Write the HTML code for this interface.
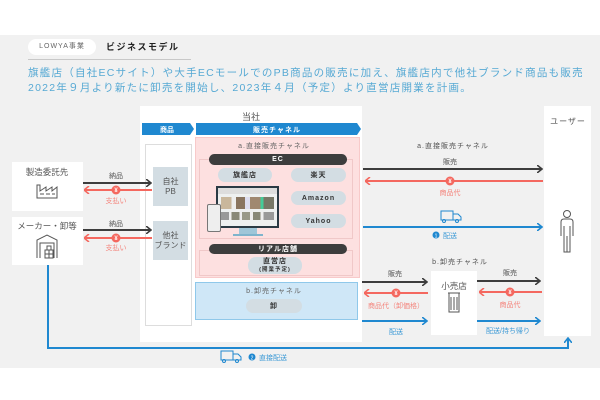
<!DOCTYPE html>
<html><head><meta charset="utf-8"><style>
*{margin:0;padding:0;box-sizing:border-box}
body{width:600px;height:400px;background:#fff;position:relative;overflow:hidden;font-family:"Liberation Sans","Noto Sans CJK JP",sans-serif}
.a{position:absolute}
.t{position:absolute;white-space:nowrap;text-align:center;transform:translateX(-50%)}
.pill{position:absolute;border-radius:8px;background:#d3dde3;color:#333;font-weight:bold;font-size:7px;display:flex;align-items:center;justify-content:center;letter-spacing:1px}
.dark{position:absolute;background:#3d3d3d;color:#fff;border-radius:6px;font-size:7px;font-weight:bold;display:flex;align-items:center;justify-content:center;letter-spacing:1px}
.wb{position:absolute;background:#fff}
</style></head><body>
<div class="a" style="left:0;top:35px;width:600px;height:333px;background:#f1f1f1"></div>
<div class="a" style="left:28px;top:39px;width:68px;height:16px;background:#fff;border-radius:8px;font-size:7px;color:#666;text-align:center;line-height:16px;letter-spacing:1px">LOWYA事業</div>
<div class="a" style="left:106px;top:39px;font-size:9px;font-weight:bold;color:#222;line-height:16px;letter-spacing:1.5px">ビジネスモデル</div>
<div class="a" style="left:28px;top:59px;width:163px;height:1px;background:#c8c8c8"></div>
<div class="a" style="left:28px;top:66px;font-size:10.5px;color:#56a9d4;line-height:15px;letter-spacing:1.25px;white-space:nowrap">旗艦店（自社ECサイト）や大手ECモールでのPB商品の販売に加え、旗艦店内で他社ブランド商品も販売<br>2022年９月より新たに卸売を開始し、2023年４月（予定）より直営店開業を計画。</div>

<div class="wb" style="left:12px;top:162px;width:71px;height:49px"></div>
<div class="t" style="left:47px;top:166px;font-size:8.5px;color:#555">製造委託先</div>
<div class="wb" style="left:12px;top:217px;width:71px;height:48px"></div>
<div class="t" style="left:47px;top:220px;font-size:8.5px;color:#555">メーカー・卸等</div>

<div class="wb" style="left:140px;top:106px;width:222px;height:236px"></div>
<div class="t" style="left:251px;top:110px;font-size:9px;color:#555">当社</div>
<div class="a" style="left:145px;top:144px;width:47px;height:182px;border:1px solid #ddd;background:#fff"></div>
<div class="a" style="left:153px;top:167px;width:35px;height:39px;background:#d3dde3;color:#555;font-size:8px;text-align:center;line-height:10px;padding-top:10px">自社<br>PB</div>
<div class="a" style="left:153px;top:221px;width:35px;height:39px;background:#d3dde3;color:#555;font-size:8px;text-align:center;line-height:10px;padding-top:10px">他社<br>ブランド</div>
<div class="a" style="left:195px;top:137px;width:165px;height:141px;background:#fde0e0;border:1px solid #f8caca"></div>
<div class="a" style="left:195px;top:282px;width:163px;height:38px;background:#cfe7f7;border:1px solid #8fc8ea"></div>
<div class="a" style="left:199px;top:159px;width:154px;height:80px;border:1px solid #f0c8c8"></div>
<div class="a" style="left:199px;top:250px;width:154px;height:26px;border:1px solid #f0c8c8"></div>
<div class="t" style="left:274px;top:141px;font-size:7px;color:#666;letter-spacing:1px">a.直接販売チャネル</div>
<div class="dark" style="left:209px;top:154px;width:138px;height:11px">EC</div>
<div class="pill" style="left:218px;top:168px;width:54px;height:14px">旗艦店</div>
<div class="pill" style="left:291px;top:168px;width:55px;height:14px">楽天</div>
<div class="pill" style="left:291px;top:191px;width:55px;height:14px">Amazon</div>
<div class="pill" style="left:291px;top:214px;width:55px;height:14px">Yahoo</div>
<div class="a" style="left:216px;top:186px;width:63px;height:42px;background:#2b3a44;padding:2px"><div style="width:100%;height:100%;background:#eef0f0;border-top:6px solid #ddd"><div style="margin:3px;height:12px;background:linear-gradient(90deg,#c9b79c 0 20%,#eee 20% 28%,#8a7560 28% 45%,#dde 45% 55%,#a08870 55% 75%,#4c9 75% 80%,#776 80%)"></div><div style="margin:3px;height:8px;background:linear-gradient(90deg,#999 0 15%,#eee 15% 20%,#887 20% 35%,#eee 35% 40%,#998 40% 55%,#eee 55% 60%,#887 60% 75%,#eee 75% 80%,#999 80%)"></div></div></div>
<div class="a" style="left:239px;top:228px;width:18px;height:6px;background:#9fc6d8"></div>
<div class="a" style="left:233px;top:234px;width:30px;height:2px;background:#7fb4cc"></div>
<div class="a" style="left:207px;top:204px;width:14px;height:28px;background:#eee;border:1px solid #777;border-radius:2px"></div>
<div class="dark" style="left:209px;top:244px;width:138px;height:10px">リアル店舗</div>
<div class="pill" style="left:248px;top:257px;width:54px;height:17px;flex-direction:column;line-height:8px">直営店<span style="font-size:5.5px">(開業予定)</span></div>
<div class="t" style="left:274px;top:286px;font-size:7px;color:#666;letter-spacing:1px">b.卸売チャネル</div>
<div class="pill" style="left:246px;top:299px;width:56px;height:14px">卸</div>

<div class="wb" style="left:544px;top:106px;width:47px;height:230px"></div>
<div class="t" style="left:568px;top:116px;font-size:8px;color:#555;letter-spacing:1px">ユーザー</div>
<div class="wb" style="left:431px;top:271px;width:46px;height:64px"></div>
<div class="t" style="left:454px;top:280px;font-size:8.5px;color:#555">小売店</div>

<svg class="a" style="left:0;top:0" width="600" height="400" viewBox="0 0 600 400">
<defs>
<marker id="k" markerWidth="6" markerHeight="8" refX="5" refY="4" orient="auto" markerUnits="userSpaceOnUse"><path d="M0 0L5 4L0 8" fill="none" stroke="#3d3d3d" stroke-width="1.6"/></marker>
<marker id="r" markerWidth="6" markerHeight="8" refX="1" refY="4" orient="auto" markerUnits="userSpaceOnUse"><path d="M5 0L0 4L5 8" fill="none" stroke="#f4685f" stroke-width="1.6"/></marker>
<marker id="b" markerWidth="6" markerHeight="8" refX="5" refY="4" orient="auto" markerUnits="userSpaceOnUse"><path d="M0 0L5 4L0 8" fill="none" stroke="#1f88d0" stroke-width="1.6"/></marker>
</defs>
<path d="M142 123H190L194 129L190 135H142Z" fill="#1f88d0"/>
<path d="M196 123H357L361 129L357 135H196Z" fill="#1f88d0"/>
<text x="167" y="132" font-size="7" fill="#fff" text-anchor="middle" font-weight="bold">商品</text>
<text x="277" y="132" font-size="7" fill="#fff" text-anchor="middle" font-weight="bold" letter-spacing="1">販売チャネル</text>
<g stroke-width="2" fill="none">
<line x1="83" y1="183" x2="151" y2="183" stroke="#3d3d3d" marker-end="url(#k)"/>
<line x1="85" y1="190" x2="152" y2="190" stroke="#f4685f" marker-start="url(#r)"/>
<line x1="83" y1="230" x2="151" y2="230" stroke="#3d3d3d" marker-end="url(#k)"/>
<line x1="85" y1="238" x2="152" y2="238" stroke="#f4685f" marker-start="url(#r)"/>
<line x1="363" y1="169" x2="542" y2="169" stroke="#3d3d3d" marker-end="url(#k)"/>
<line x1="366" y1="181" x2="543" y2="181" stroke="#f4685f" marker-start="url(#r)"/>
<line x1="363" y1="227" x2="542" y2="227" stroke="#1f88d0" marker-end="url(#b)"/>
<line x1="362" y1="282" x2="427" y2="282" stroke="#3d3d3d" marker-end="url(#k)"/>
<line x1="365" y1="293" x2="428" y2="293" stroke="#f4685f" marker-start="url(#r)"/>
<line x1="362" y1="321" x2="427" y2="321" stroke="#1f88d0" marker-end="url(#b)"/>
<line x1="477" y1="281" x2="540" y2="281" stroke="#3d3d3d" marker-end="url(#k)"/>
<line x1="480" y1="292" x2="542" y2="292" stroke="#f4685f" marker-start="url(#r)"/>
<line x1="477" y1="321" x2="540" y2="321" stroke="#1f88d0" marker-end="url(#b)"/>
<path d="M48 265V348H568V338" stroke="#1f88d0" marker-end="url(#b)"/>
</g>
<g fill="#f4685f">
<circle cx="116" cy="190" r="4.5"/><circle cx="116" cy="238" r="4.5"/><circle cx="450" cy="181" r="4.5"/><circle cx="396" cy="293" r="4.5"/><circle cx="510" cy="292" r="4.5"/>
</g>
<g fill="#fff" font-size="6" text-anchor="middle" font-weight="bold">
<text x="116" y="192">¥</text><text x="116" y="240">¥</text><text x="450" y="183">¥</text><text x="396" y="295">¥</text><text x="510" y="294">¥</text>
</g>
<g font-size="7" text-anchor="middle" fill="#555">
<text x="116" y="178">納品</text><text x="116" y="226">納品</text>
<text x="453" y="148" letter-spacing="1">a.直接販売チャネル</text>
<text x="450" y="164">販売</text>
<text x="460" y="264" letter-spacing="1">b.卸売チャネル</text>
<text x="395" y="276">販売</text><text x="510" y="275">販売</text>
</g>
<g font-size="7" text-anchor="middle" fill="#f4857d">
<text x="116" y="203">支払い</text><text x="116" y="250">支払い</text>
<text x="450" y="195">商品代</text><text x="396" y="308">商品代（卸価格）</text><text x="510" y="307">商品代</text>
</g>
<g font-size="7" fill="#3d9ad6">
<circle cx="436" cy="235" r="3.5" fill="#1f88d0"/><text x="436" y="237.5" font-size="5" fill="#fff" text-anchor="middle">1</text>
<text x="443" y="238">配送</text>
<text x="396" y="334" text-anchor="middle">配送</text><text x="508" y="333" text-anchor="middle">配送/持ち帰り</text>
<circle cx="252" cy="357" r="3.5" fill="#1f88d0"/><text x="252" y="359.5" font-size="5" fill="#fff" text-anchor="middle">2</text>
<text x="259" y="360">直接配送</text>
</g>
<g stroke="#1f88d0" stroke-width="1" fill="none">
<rect x="441" y="211" width="12" height="9"/><path d="M453 214H458L461 217V220H453"/><circle cx="444" cy="221" r="1.5"/><circle cx="457" cy="221" r="1.5"/>
<rect x="221" y="351" width="12" height="9"/><path d="M233 354H238L241 357V360H233"/><circle cx="224" cy="361" r="1.5"/><circle cx="237" cy="361" r="1.5"/>
</g>
<g stroke="#555" stroke-width="1" fill="none">
<path d="M37 198V185H40V191L46 187V191L52 187V191L57 187V198Z"/>
<path d="M40 194H44M46 194H50M52 194H55"/>
<path d="M37 258V240L47 235L57 240V258"/><path d="M40 258V243H54V258"/>
<rect x="45" y="250" width="4" height="4"/><rect x="49" y="250" width="4" height="4"/><rect x="47" y="246" width="4" height="4"/><rect x="45" y="254" width="4" height="4"/><rect x="49" y="254" width="4" height="4"/>
<rect x="449" y="293" width="10" height="19"/><path d="M448 293H460"/>
<path d="M451 297V310M454 297V310M457 297V310"/>
<circle cx="567" cy="214" r="3.5"/>
<path d="M561 236V222Q561 219 564 219H570Q573 219 573 222V236M564 226V252H570V226M567 236V252"/>
</g>
</svg>
</body></html>
